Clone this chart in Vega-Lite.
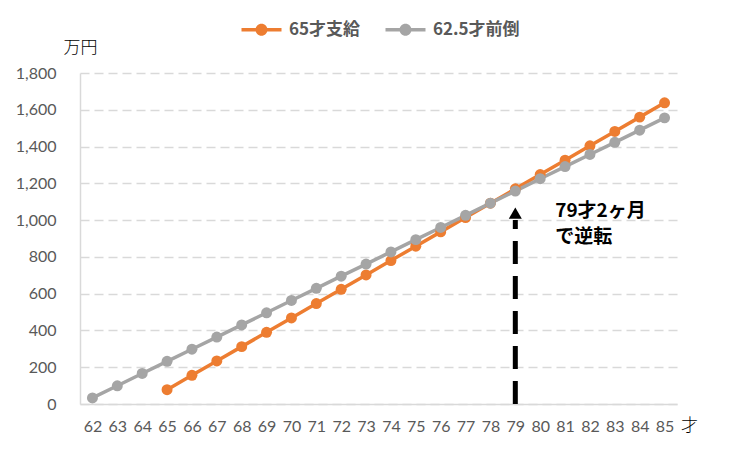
{
  "$schema": "https://vega.github.io/schema/vega-lite/v6.json",
  "width": 597,
  "height": 331,
  "autosize": "none",
  "padding": {"left": 80, "top": 73, "right": 79, "bottom": 52},
  "background": "white",
  "config": {
    "view": {"stroke": null},
    "font": "Lato",
    "axis": {"labelFont": "Lato", "labelFontSize": 16, "labelColor": "#595959", "ticks": false, "domainColor": "#d9d9d9", "domainWidth": 1.5, "labelOverlap": false},
    "axisY": {"tickCount": 9, "format": ",.0f", "labelPadding": 24, "gridColor": "#d9d9d9", "gridWidth": 1.5, "gridDash": [9, 5]},
    "axisX": {"labelAngle": 0, "labelPadding": 14, "grid": false},
    "legend": {"labelFont": "Noto Sans CJK JP", "labelFontWeight": "bold", "labelFontSize": 17, "labelColor": "#595959"}
  },
  "datasets": {
    "pension": [
      {"age": "65", "series": "65才支給", "value": 78},
      {"age": "66", "series": "65才支給", "value": 156},
      {"age": "67", "series": "65才支給", "value": 234},
      {"age": "68", "series": "65才支給", "value": 312},
      {"age": "69", "series": "65才支給", "value": 390},
      {"age": "70", "series": "65才支給", "value": 468},
      {"age": "71", "series": "65才支給", "value": 546},
      {"age": "72", "series": "65才支給", "value": 624},
      {"age": "73", "series": "65才支給", "value": 702},
      {"age": "74", "series": "65才支給", "value": 780},
      {"age": "75", "series": "65才支給", "value": 858},
      {"age": "76", "series": "65才支給", "value": 936},
      {"age": "77", "series": "65才支給", "value": 1014},
      {"age": "78", "series": "65才支給", "value": 1092},
      {"age": "79", "series": "65才支給", "value": 1170},
      {"age": "80", "series": "65才支給", "value": 1248},
      {"age": "81", "series": "65才支給", "value": 1326},
      {"age": "82", "series": "65才支給", "value": 1404},
      {"age": "83", "series": "65才支給", "value": 1482},
      {"age": "84", "series": "65才支給", "value": 1560},
      {"age": "85", "series": "65才支給", "value": 1638},
      {"age": "62", "series": "62.5才前倒", "value": 33},
      {"age": "63", "series": "62.5才前倒", "value": 99},
      {"age": "64", "series": "62.5才前倒", "value": 166},
      {"age": "65", "series": "62.5才前倒", "value": 232},
      {"age": "66", "series": "62.5才前倒", "value": 298},
      {"age": "67", "series": "62.5才前倒", "value": 364},
      {"age": "68", "series": "62.5才前倒", "value": 430},
      {"age": "69", "series": "62.5才前倒", "value": 496},
      {"age": "70", "series": "62.5才前倒", "value": 563},
      {"age": "71", "series": "62.5才前倒", "value": 629},
      {"age": "72", "series": "62.5才前倒", "value": 695},
      {"age": "73", "series": "62.5才前倒", "value": 761},
      {"age": "74", "series": "62.5才前倒", "value": 827},
      {"age": "75", "series": "62.5才前倒", "value": 894},
      {"age": "76", "series": "62.5才前倒", "value": 960},
      {"age": "77", "series": "62.5才前倒", "value": 1026},
      {"age": "78", "series": "62.5才前倒", "value": 1092},
      {"age": "79", "series": "62.5才前倒", "value": 1158},
      {"age": "80", "series": "62.5才前倒", "value": 1225},
      {"age": "81", "series": "62.5才前倒", "value": 1291},
      {"age": "82", "series": "62.5才前倒", "value": 1357},
      {"age": "83", "series": "62.5才前倒", "value": 1423},
      {"age": "84", "series": "62.5才前倒", "value": 1489},
      {"age": "85", "series": "62.5才前倒", "value": 1556}
    ],
    "arrow": [
      {"age": "79", "start": 0, "end": 1000, "head": 1038}
    ],
    "note": [
      {"age": "80", "label": "79才2ヶ月\nで逆転", "value": 1100}
    ]
  },
  "layer": [
    {
      "data": {"name": "pension"},
      "mark": {"type": "line", "strokeWidth": 3.5, "point": {"filled": true, "size": 120, "opacity": 1}},
      "encoding": {
        "x": {
          "field": "age", "type": "ordinal", "sort": "ascending",
          "scale": {"type": "point", "domain": ["62","63","64","65","66","67","68","69","70","71","72","73","74","75","76","77","78","79","80","81","82","83","84","85"], "padding": 0.5},
          "axis": {"title": "才", "titleFont": "Noto Sans CJK JP", "titleFontWeight": 300, "titleFontSize": 17, "titleColor": "black", "titleX": 609, "titleY": 21, "titleAlign": "center", "titleBaseline": "middle"}
        },
        "y": {
          "field": "value", "type": "quantitative",
          "scale": {"domain": [0, 1800], "nice": false},
          "axis": {"title": "万円", "titleFont": "Noto Sans CJK JP", "titleFontWeight": 300, "titleFontSize": 17, "titleColor": "black", "titleAngle": 0, "titleX": 0, "titleY": -26, "titleAlign": "center", "titleBaseline": "middle"}
        },
        "color": {
          "field": "series", "type": "nominal",
          "scale": {"domain": ["65才支給", "62.5才前倒"], "range": ["#ED7D31", "#A5A5A5"]},
          "legend": {
            "title": null, "orient": "none", "direction": "horizontal",
            "legendX": 173, "legendY": -52,
            "symbolType": "M-4,-0.35 H4 V0.35 H-4 Z M-1.2,0 A1.2,1.2 0 1,1 1.2,0 A1.2,1.2 0 1,1 -1.2,0 Z",
            "symbolSize": 100, "symbolStrokeWidth": 0, "labelOffset": 19, "columnPadding": 24,
            "encode": {"symbols": {"update": {"fill": {"scale": "color", "field": "value"}, "opacity": {"value": 1}}}}
          }
        }
      }
    },
    {
      "data": {"name": "arrow"},
      "mark": {"type": "rule", "color": "black", "strokeWidth": 5, "strokeDash": [23, 12]},
      "encoding": {
        "x": {"field": "age", "type": "ordinal"},
        "y": {"field": "start", "type": "quantitative"},
        "y2": {"field": "end"}
      }
    },
    {
      "data": {"name": "arrow"},
      "mark": {"type": "point", "shape": "triangle-up", "filled": true, "color": "black", "size": 170, "opacity": 1},
      "encoding": {
        "x": {"field": "age", "type": "ordinal"},
        "y": {"field": "head", "type": "quantitative"}
      }
    },
    {
      "data": {"name": "note"},
      "mark": {"type": "text", "font": "Noto Sans CJK JP", "fontWeight": "bold", "fontSize": 19, "color": "black", "align": "left", "baseline": "top", "dx": 15, "lineBreak": "\n", "lineHeight": 26},
      "encoding": {
        "x": {"field": "age", "type": "ordinal"},
        "y": {"field": "value", "type": "quantitative"},
        "text": {"field": "label"}
      }
    }
  ]
}
